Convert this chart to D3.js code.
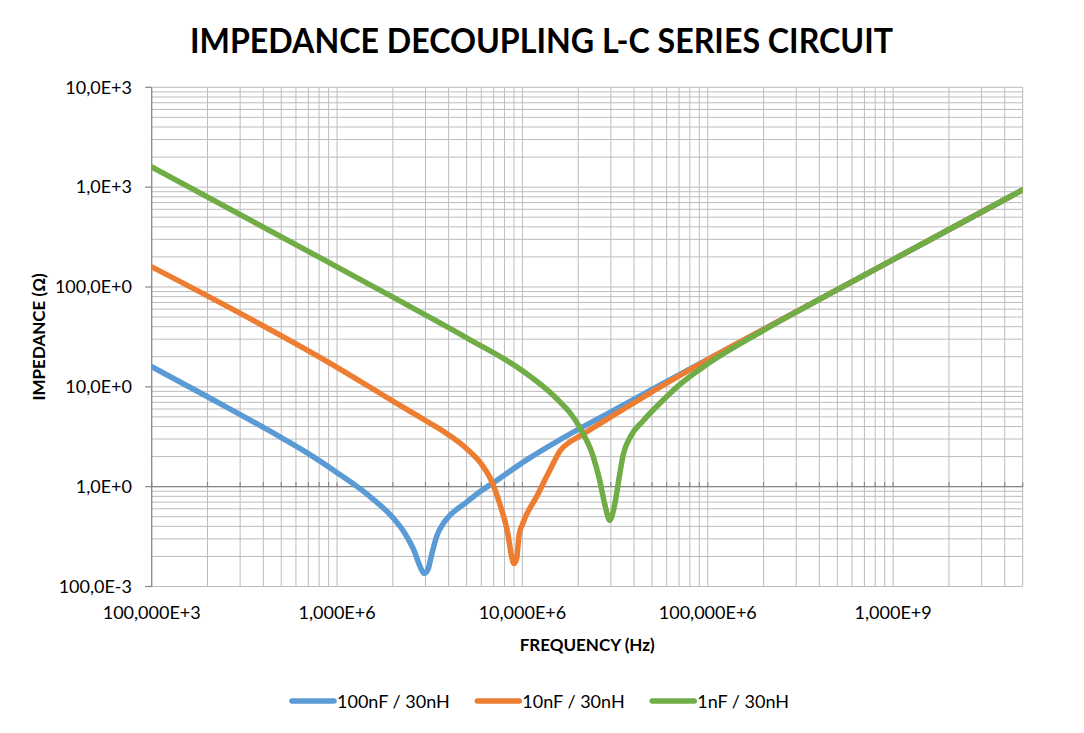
<!DOCTYPE html>
<html>
<head>
<meta charset="utf-8">
<script src="https://cdn.jsdelivr.net/npm/d3@7"></script>
<style>
  html, body { margin: 0; padding: 0; background: #ffffff; }
  svg { display: block; }
  text { font-family: Lato, "Open Sans", "DejaVu Sans", sans-serif; fill: #000; }
</style>
</head>
<body>
<svg id="chart" width="1084" height="733"></svg>
<script>
// ---------------- DATA ----------------
const titleText = "IMPEDANCE DECOUPLING L-C SERIES CIRCUIT";
const xAxisTitle = "FREQUENCY (Hz)";
const yAxisTitle = "IMPEDANCE (\u03A9)";

const seriesNames = ["100nF / 30nH", "10nF / 30nH", "1nF / 30nH"];
const seriesColors = ["#5B9BD5", "#ED7D31", "#70AD47"];

// frequency (Hz) / impedance (ohm) pairs per series
const freq100nF = [1e5, 2e5, 5e5, 7e5, 1e6, 1.5e6, 2e6, 2.3e6, 2.6e6, 2.8e6, 2.95e6, 3.1e6, 3.2e6, 3.45e6, 3.75e6, 4e6, 5e6, 6e6, 7e6, 1e7, 2e7, 3e7, 5e7, 1e8, 1e9, 5e9];
const imp100nF  = [15.9, 7.95, 3.1, 2.14, 1.38, 0.8, 0.49, 0.35, 0.23, 0.16, 0.135, 0.15, 0.19, 0.32, 0.43, 0.5, 0.7, 0.91, 1.1, 1.74, 3.75, 5.6, 9.4, 18.8, 188, 940];

const freq10nF = [1e5, 1e6, 2e6, 3e6, 4e6, 5e6, 6e6, 6.8e6, 7.55e6, 8.35e6, 8.7e6, 9.0e6, 9.3e6, 9.6e6, 1.0e7, 1.2e7, 1.4e7, 1.6e7, 1.8e7, 2.0e7, 3e7, 5e7, 7e7, 1e8, 2e8, 1e9, 5e9];
const imp10nF  = [159, 15.7, 7.2, 4.6, 3.3, 2.4, 1.69, 1.15, 0.67, 0.336, 0.21, 0.17, 0.19, 0.33, 0.42, 0.81, 1.44, 2.3, 2.8, 3.15, 5.0, 8.9, 12.9, 18.7, 37.6, 188, 940];

const freq1nF = [1e5, 1e6, 2e6, 5e6, 1e7, 1.5e7, 1.65e7, 1.8e7, 2.1e7, 2.4e7, 2.6e7, 2.78e7, 2.96e7, 3.15e7, 3.35e7, 3.5e7, 3.8e7, 4.5e7, 5.5e7, 7e7, 1e8, 2e8, 5e8, 1e9, 5e9];
const imp1nF  = [1590, 159, 79, 31, 14.5, 7.9, 6.6, 5.55, 3.55, 2.05, 1.2, 0.67, 0.46, 0.67, 1.34, 2.1, 3.1, 4.6, 6.8, 10.4, 17.0, 36.8, 94, 188, 940];

const xTickValues = [1e5, 1e6, 1e7, 1e8, 1e9];
const xTickLabels = ["100,000E+3", "1,000E+6", "10,000E+6", "100,000E+6", "1,000E+9"];
const yTickValues = [0.1, 1, 10, 100, 1000, 10000];
const yTickLabels = ["100,0E-3", "1,0E+0", "10,0E+0", "100,0E+0", "1,0E+3", "10,0E+3"];

const xDomain = [1e5, 5e9];
const yDomain = [0.1, 1e4];

// ---------------- CHART ----------------
const svg = d3.select("#chart");
const plot = { left: 151.7, right: 1022.7, top: 87.3, bottom: 586.5 };

const x = d3.scaleLog().domain(xDomain).range([plot.left, plot.right]);
const y = d3.scaleLog().domain(yDomain).range([plot.bottom, plot.top]);

const gridColor = "#bcbcbc";
const axisColor = "#868686";

// minor+major grid values
const xGrid = [];
for (let k = 5; k <= 9; k++) for (let m = 1; m <= 9; m++) {
  const v = m * Math.pow(10, k);
  if (v <= xDomain[1] * 1.0001) xGrid.push(v);
}
const yGrid = [];
for (let k = -1; k <= 3; k++) for (let m = 1; m <= 9; m++) yGrid.push(m * Math.pow(10, k));
yGrid.push(1e4);

const grid = svg.append("g");
grid.selectAll("line.v").data(xGrid).enter().append("line")
  .attr("x1", d => x(d)).attr("x2", d => x(d))
  .attr("y1", plot.top).attr("y2", plot.bottom)
  .attr("stroke", gridColor).attr("stroke-width", 1);
grid.selectAll("line.h").data(yGrid).enter().append("line")
  .attr("x1", plot.left).attr("x2", plot.right)
  .attr("y1", d => y(d)).attr("y2", d => y(d))
  .attr("stroke", gridColor).attr("stroke-width", 1);

// horizontal axis crosses at 1
const xAxisY = y(1);
svg.append("line").attr("x1", plot.left).attr("x2", plot.right)
  .attr("y1", xAxisY).attr("y2", xAxisY).attr("stroke", axisColor).attr("stroke-width", 1.2);
svg.selectAll("line.xt").data(xGrid).enter().append("line")
  .attr("x1", d => x(d)).attr("x2", d => x(d))
  .attr("y1", xAxisY - 4.5).attr("y2", xAxisY)
  .attr("stroke", axisColor).attr("stroke-width", 1.2);

// vertical axis
svg.append("line").attr("x1", plot.left).attr("x2", plot.left)
  .attr("y1", plot.top).attr("y2", plot.bottom).attr("stroke", axisColor).attr("stroke-width", 1.2);
svg.selectAll("line.yt").data(yTickValues).enter().append("line")
  .attr("x1", plot.left - 6.5).attr("x2", plot.left)
  .attr("y1", d => y(d)).attr("y2", d => y(d))
  .attr("stroke", axisColor).attr("stroke-width", 1.2);

// tick labels
svg.selectAll("text.yl").data(yTickValues).enter().append("text")
  .attr("x", 132).attr("y", d => y(d) + 6.3)
  .attr("text-anchor", "end").attr("font-size", 18)
  .text((d, i) => yTickLabels[i]);
svg.selectAll("text.xl").data(xTickValues).enter().append("text")
  .attr("x", d => x(d)).attr("y", 619)
  .attr("text-anchor", "middle").attr("font-size", 18)
  .text((d, i) => xTickLabels[i]);

// titles
svg.append("text").attr("x", 541.5).attr("y", 53)
  .attr("text-anchor", "middle").attr("font-size", 34).attr("font-weight", "bold")
  .attr("textLength", 703).attr("lengthAdjust", "spacingAndGlyphs")
  .text(titleText);
svg.append("text").attr("x", (plot.left + plot.right) / 2).attr("y", 651)
  .attr("text-anchor", "middle").attr("font-size", 17).attr("font-weight", "bold")
  .text(xAxisTitle);
svg.append("text")
  .attr("transform", `translate(45,${(plot.top + plot.bottom) / 2}) rotate(-90)`)
  .attr("text-anchor", "middle").attr("font-size", 17).attr("font-weight", "bold")
  .text(yAxisTitle);

// series
const series = [
  { f: freq100nF, z: imp100nF },
  { f: freq10nF, z: imp10nF },
  { f: freq1nF, z: imp1nF }
];
const line = d3.line().x(d => x(d[0])).y(d => y(d[1])).curve(d3.curveMonotoneX);
svg.append("defs").append("clipPath").attr("id", "clip").append("rect")
  .attr("x", plot.left).attr("y", plot.top - 3)
  .attr("width", plot.right - plot.left).attr("height", plot.bottom - plot.top + 3);
const lines = svg.append("g").attr("clip-path", "url(#clip)");
series.forEach((s, i) => {
  const pts = s.f.map((f, j) => [f, s.z[j]]);
  lines.append("path").attr("d", line(pts))
    .attr("fill", "none").attr("stroke", seriesColors[i])
    .attr("stroke-width", 5.5).attr("stroke-linejoin", "round").attr("stroke-linecap", "round");
});

// legend
const legend = svg.append("g");
let lx = 292;
const ly = 701;
seriesNames.forEach((name, i) => {
  legend.append("line").attr("x1", lx).attr("x2", lx + 42).attr("y1", ly).attr("y2", ly)
    .attr("stroke", seriesColors[i]).attr("stroke-width", 5.5).attr("stroke-linecap", "round");
  const t = legend.append("text").attr("x", lx + 45).attr("y", ly + 6.5)
    .attr("font-size", 18).text(name);
  const w = t.node().getComputedTextLength();
  lx = lx + 45 + w + 27.5;
});
</script>
</body>
</html>
